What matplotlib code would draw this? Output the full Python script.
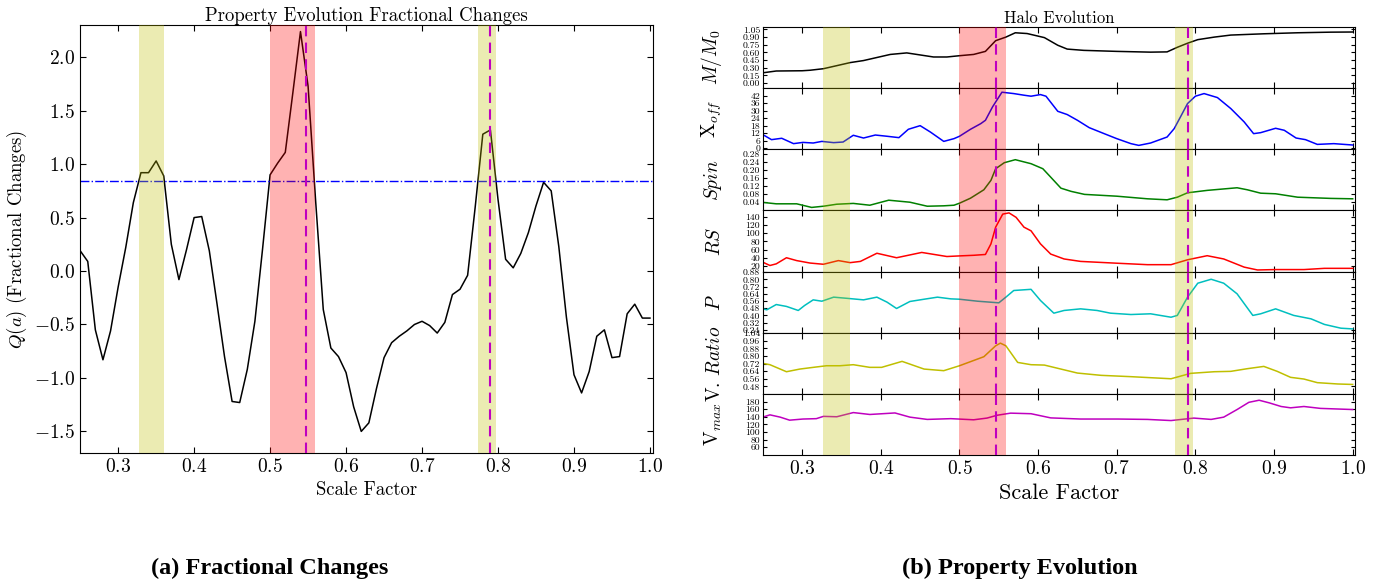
import matplotlib
matplotlib.use('Agg')
import matplotlib.pyplot as plt
from matplotlib.ticker import FormatStrFormatter

plt.rcParams['font.family'] = 'serif'
plt.rcParams['font.serif'] = ['cmr10', 'DejaVu Serif']
plt.rcParams['mathtext.fontset'] = 'cm'
plt.rcParams['axes.formatter.use_mathtext'] = True
plt.rcParams['xtick.direction'] = 'in'
plt.rcParams['ytick.direction'] = 'in'
plt.rcParams['xtick.top'] = True
plt.rcParams['ytick.right'] = True

# ---- left panel: fractional changes ----
frac_a = [0.25, 0.26, 0.27, 0.28, 0.29, 0.30, 0.31, 0.32, 0.33, 0.34,
          0.35, 0.36, 0.37, 0.38, 0.39, 0.40, 0.41, 0.42, 0.43, 0.44,
          0.45, 0.46, 0.47, 0.48, 0.49, 0.50, 0.51, 0.52, 0.53, 0.54,
          0.55, 0.56, 0.57, 0.58, 0.59, 0.60, 0.61, 0.62, 0.63, 0.64,
          0.65, 0.66, 0.67, 0.68, 0.69, 0.70, 0.71, 0.72, 0.73, 0.74,
          0.75, 0.76, 0.77, 0.78, 0.79, 0.80, 0.81, 0.82, 0.83, 0.84,
          0.85, 0.86, 0.87, 0.88, 0.89, 0.90, 0.91, 0.92, 0.93, 0.94,
          0.95, 0.96, 0.97, 0.98, 0.99, 1.00]
frac_q = [0.19, 0.09, -0.55, -0.83, -0.56, -0.15, 0.22, 0.64, 0.92, 0.92,
          1.03, 0.89, 0.25, -0.08, 0.20, 0.50, 0.51, 0.19, -0.30, -0.80,
          -1.22, -1.23, -0.92, -0.47, 0.20, 0.90, 1.01, 1.11, 1.67, 2.24,
          1.73, 0.65, -0.36, -0.72, -0.80, -0.95, -1.27, -1.50, -1.42, -1.10,
          -0.81, -0.67, -0.61, -0.56, -0.50, -0.47, -0.51, -0.58, -0.48, -0.22,
          -0.17, -0.04, 0.60, 1.28, 1.32, 0.67, 0.11, 0.03, 0.165, 0.36,
          0.61, 0.83, 0.75, 0.23, -0.43, -0.97, -1.14, -0.94, -0.61, -0.55,
          -0.81, -0.80, -0.40, -0.31, -0.44, -0.44]
threshold = 0.84

# highlighted ranges and event markers (scale factor)
yellow_spans = [(0.327, 0.361), (0.774, 0.797)]
red_spans = [(0.500, 0.559)]
events = [0.547, 0.790]

# ---- right panel: halo properties ----
mass_a = [0.25, 0.267, 0.30, 0.31, 0.327, 0.344, 0.361, 0.378, 0.395, 0.412,
          0.433, 0.450, 0.467, 0.484, 0.50, 0.518, 0.533, 0.546, 0.559, 0.571,
          0.586, 0.608, 0.625, 0.637, 0.658, 0.70, 0.743, 0.764, 0.777, 0.790,
          0.803, 0.824, 0.845, 0.887, 0.93, 0.972, 1.0]
mass = [0.20, 0.235, 0.24, 0.25, 0.28, 0.34, 0.40, 0.44, 0.50, 0.56,
        0.59, 0.55, 0.51, 0.51, 0.535, 0.56, 0.62, 0.83, 0.90, 0.985,
        0.97, 0.89, 0.74, 0.665, 0.64, 0.62, 0.605, 0.61, 0.70, 0.78,
        0.85, 0.90, 0.94, 0.965, 0.985, 0.997, 1.0]

xoff_a = [0.25, 0.261, 0.274, 0.289, 0.301, 0.314, 0.325, 0.340, 0.352, 0.365,
          0.378, 0.393, 0.408, 0.423, 0.435, 0.450, 0.463, 0.480, 0.493, 0.50,
          0.514, 0.527, 0.533, 0.542, 0.554, 0.569, 0.582, 0.591, 0.603, 0.610,
          0.625, 0.637, 0.65, 0.665, 0.684, 0.70, 0.718, 0.728, 0.743, 0.764,
          0.773, 0.781, 0.790, 0.80, 0.811, 0.828, 0.845, 0.862, 0.874, 0.883,
          0.902, 0.913, 0.928, 0.94, 0.955, 0.976, 1.0]
xoff = [10.7, 6.7, 7.8, 3.5, 4.5, 4.0, 5.3, 4.3, 4.8, 10.2,
        8.0, 10.4, 9.4, 8.3, 15.0, 17.9, 12.8, 5.3, 7.5, 9.4,
        15.0, 19.5, 22.2, 32.9, 44.7, 43.6, 42.3, 41.5, 42.8, 41.5,
        29.4, 26.8, 22.2, 16.3, 11.5, 7.5, 3.5, 2.1, 4.0, 8.8,
        15.5, 24.9, 35.6, 41.5, 43.6, 40.4, 31.6, 20.9, 11.5, 12.3,
        15.8, 14.2, 8.0, 6.7, 2.9, 3.5, 2.4]

spin_a = [0.25, 0.267, 0.293, 0.312, 0.327, 0.344, 0.365, 0.386, 0.410, 0.437,
          0.459, 0.480, 0.493, 0.50, 0.514, 0.531, 0.540, 0.546, 0.557, 0.571,
          0.591, 0.606, 0.616, 0.629, 0.642, 0.659, 0.70, 0.739, 0.764, 0.777,
          0.790, 0.815, 0.853, 0.866, 0.883, 0.902, 0.930, 0.972, 1.0]
spin = [0.037, 0.030, 0.030, 0.012, 0.018, 0.028, 0.032, 0.023, 0.048, 0.038,
        0.018, 0.020, 0.023, 0.033, 0.058, 0.10, 0.147, 0.205, 0.235, 0.25,
        0.23, 0.205, 0.163, 0.108, 0.092, 0.077, 0.068, 0.055, 0.05, 0.063,
        0.085, 0.097, 0.11, 0.10, 0.083, 0.08, 0.063, 0.057, 0.055]

rs_a = [0.25, 0.259, 0.267, 0.280, 0.293, 0.310, 0.327, 0.346, 0.361, 0.374,
        0.395, 0.420, 0.452, 0.484, 0.50, 0.518, 0.533, 0.540, 0.546, 0.555,
        0.563, 0.572, 0.582, 0.591, 0.603, 0.616, 0.633, 0.654, 0.701, 0.739,
        0.769, 0.790, 0.815, 0.836, 0.862, 0.879, 0.902, 0.938, 0.964, 1.0]
rs = [29, 21, 25, 40, 33, 27, 24, 33, 28, 31,
      51, 40, 53, 43, 44.5, 46, 48, 74, 115, 147,
      150, 139, 115, 106, 74, 49, 37, 31, 26.5, 23,
      23, 35, 45, 37, 17, 10, 11, 11, 14, 14]

p_a = [0.25, 0.255, 0.267, 0.280, 0.295, 0.303, 0.314, 0.325, 0.340, 0.357,
       0.378, 0.395, 0.408, 0.420, 0.437, 0.455, 0.472, 0.489, 0.50, 0.523,
       0.550, 0.559, 0.569, 0.591, 0.603, 0.620, 0.633, 0.654, 0.675, 0.692,
       0.718, 0.743, 0.769, 0.777, 0.790, 0.803, 0.820, 0.836, 0.853, 0.873,
       0.883, 0.902, 0.925, 0.947, 0.964, 0.985, 1.0]
p_shape = [0.473, 0.462, 0.521, 0.50, 0.455, 0.51, 0.573, 0.558, 0.603, 0.59,
           0.573, 0.603, 0.547, 0.477, 0.555, 0.58, 0.603, 0.584, 0.58, 0.558,
           0.54, 0.603, 0.677, 0.69, 0.566, 0.425, 0.455, 0.473, 0.455, 0.425,
           0.41, 0.418, 0.38, 0.40, 0.603, 0.758, 0.802, 0.758, 0.64, 0.40,
           0.418, 0.473, 0.40, 0.362, 0.30, 0.258, 0.25]

vr_a = [0.25, 0.259, 0.280, 0.297, 0.314, 0.331, 0.348, 0.365, 0.386, 0.401,
        0.427, 0.455, 0.48, 0.50, 0.531, 0.546, 0.552, 0.559, 0.574, 0.591,
        0.608, 0.625, 0.65, 0.680, 0.718, 0.769, 0.794, 0.824, 0.845, 0.866,
        0.887, 0.904, 0.921, 0.938, 0.955, 0.981, 1.0]
vratio = [0.722, 0.708, 0.634, 0.662, 0.68, 0.697, 0.697, 0.708, 0.68, 0.68,
          0.743, 0.662, 0.645, 0.697, 0.792, 0.907, 0.935, 0.907, 0.732, 0.708,
          0.704, 0.67, 0.62, 0.596, 0.582, 0.56, 0.617, 0.634, 0.638, 0.666,
          0.69, 0.638, 0.575, 0.557, 0.519, 0.505, 0.50]

vmax_a = [0.25, 0.259, 0.272, 0.284, 0.301, 0.318, 0.327, 0.344, 0.365, 0.386,
          0.418, 0.437, 0.459, 0.489, 0.518, 0.535, 0.548, 0.565, 0.591, 0.616,
          0.654, 0.701, 0.739, 0.769, 0.798, 0.820, 0.836, 0.853, 0.868, 0.881,
          0.894, 0.909, 0.921, 0.938, 0.959, 1.0]
vmax = [139, 145, 139, 131, 134, 135, 141, 140, 151, 146,
        150, 139, 133, 135, 132, 136.5, 144, 149.5, 148, 137,
        134, 134, 133, 130, 136.5, 133, 139, 159, 178, 183.5,
        176.5, 167, 163.5, 167, 162, 159]

fig = plt.figure(figsize=(13.82, 5.85), dpi=100)


def mark_events(ax):
    for lo, hi in yellow_spans:
        ax.axvspan(lo, hi, color='y', alpha=0.3, lw=0, zorder=3)
    for lo, hi in red_spans:
        ax.axvspan(lo, hi, color='r', alpha=0.3, lw=0, zorder=3)
    for a in events:
        ax.axvline(a, color='m', lw=1.5, dashes=(5, 3), zorder=4)


# left
ax = fig.add_axes([0.058, 0.226, 0.4145, 0.731])
ax.plot(frac_a, frac_q, color='k', lw=1.1)
ax.axhline(threshold, color='b', lw=1, ls='-.')
mark_events(ax)
ax.set_xlim(0.25, 1.004)
ax.set_ylim(-1.7, 2.3)
ax.set_xticks([0.3, 0.4, 0.5, 0.6, 0.7, 0.8, 0.9, 1.0])
ax.set_yticks([-1.5, -1.0, -0.5, 0.0, 0.5, 1.0, 1.5, 2.0])
ax.tick_params(labelsize=14, length=4)
ax.set_title('Property Evolution Fractional Changes', fontsize=13.5, pad=3)
ax.set_xlabel('Scale Factor', fontsize=13.5)
ax.set_ylabel(r'$Q(a)$ (Fractional Changes)', fontsize=13.5)

# right
series = [
    (mass_a, mass, 'k', r'$M/M_0$', (-0.1, 1.1), [0.00, 0.15, 0.30, 0.45, 0.60, 0.75, 0.90, 1.05], '%.2f'),
    (xoff_a, xoff, 'b', r'X$_{off}$', (-1, 48), [0, 6, 12, 18, 24, 30, 36, 42], '%d'),
    (spin_a, spin, 'g', r'$Spin$', (-0.003, 0.302), [0.04, 0.08, 0.12, 0.16, 0.20, 0.24, 0.28], '%.2f'),
    (rs_a, rs, 'r', r'$RS$', (6, 156), [20, 40, 60, 80, 100, 120, 140], '%d'),
    (p_a, p_shape, 'c', r'$P$', (0.207, 0.887), [0.24, 0.32, 0.40, 0.48, 0.56, 0.64, 0.72, 0.80, 0.88], '%.2f'),
    (vr_a, vratio, 'y', r'V. $Ratio$', (0.40, 1.044), [0.48, 0.56, 0.64, 0.72, 0.80, 0.88, 0.96, 1.04], '%.2f'),
    (vmax_a, vmax, 'm', r'V$_{max}$', (39, 200), [60, 80, 100, 120, 140, 160, 180], '%d'),
]

gs = fig.add_gridspec(len(series), 1, left=0.552, right=0.9805,
                      top=0.954, bottom=0.222, hspace=0)
for i, (xa, ya, col, lab, lim, ticks, fmt) in enumerate(series):
    axr = fig.add_subplot(gs[i, 0])
    axr.plot(xa, ya, color=col, lw=1.1)
    mark_events(axr)
    axr.set_xlim(0.25, 1.003)
    axr.set_ylim(*lim)
    axr.set_yticks(ticks)
    axr.yaxis.set_major_formatter(FormatStrFormatter(fmt))
    axr.set_xticks([0.3, 0.4, 0.5, 0.6, 0.7, 0.8, 0.9, 1.0])
    axr.tick_params(axis='y', labelsize=7, length=3, pad=2)
    axr.tick_params(axis='x', labelsize=14, length=4)
    axr.set_ylabel(lab, fontsize=14)
    axr.yaxis.set_label_coords(-0.065, 0.5)
    if i < len(series) - 1:
        axr.tick_params(axis='x', labelbottom=False)
    else:
        axr.set_xlabel('Scale Factor', fontsize=16)
    if i == 0:
        axr.set_title('Halo Evolution', fontsize=12, pad=3)

fig.text(0.195, 0.028, '(a) Fractional Changes', ha='center', va='center',
         family='Liberation Serif', weight='bold', fontsize=17.5)
fig.text(0.738, 0.028, '(b) Property Evolution', ha='center', va='center',
         family='Liberation Serif', weight='bold', fontsize=17.5)

fig.savefig('out.png', dpi=100)
